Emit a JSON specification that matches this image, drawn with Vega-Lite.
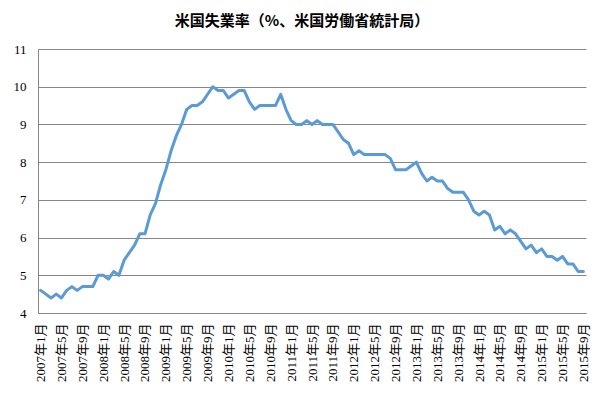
{
  "$schema": "https://vega.github.io/schema/vega-lite/v6.json",
  "width": 548,
  "height": 264,
  "autosize": "none",
  "padding": {"left": 38, "top": 49, "right": 19, "bottom": 81},
  "background": "white",
  "title": {
    "text": "米国失業率（%、米国労働省統計局）",
    "font": "Noto Sans CJK JP",
    "fontSize": 15,
    "fontWeight": "bold",
    "color": "#000000",
    "anchor": "middle",
    "dx": -10,
    "offset": 14
  },
  "data": {
    "values": [
      {"month": "2007年1月", "rate": 4.6}, {"month": "2007年2月", "rate": 4.5}, {"month": "2007年3月", "rate": 4.4}, {"month": "2007年4月", "rate": 4.5}, {"month": "2007年5月", "rate": 4.4}, {"month": "2007年6月", "rate": 4.6}, {"month": "2007年7月", "rate": 4.7}, {"month": "2007年8月", "rate": 4.6}, {"month": "2007年9月", "rate": 4.7}, {"month": "2007年10月", "rate": 4.7}, {"month": "2007年11月", "rate": 4.7}, {"month": "2007年12月", "rate": 5.0},
      {"month": "2008年1月", "rate": 5.0}, {"month": "2008年2月", "rate": 4.9}, {"month": "2008年3月", "rate": 5.1}, {"month": "2008年4月", "rate": 5.0}, {"month": "2008年5月", "rate": 5.4}, {"month": "2008年6月", "rate": 5.6}, {"month": "2008年7月", "rate": 5.8}, {"month": "2008年8月", "rate": 6.1}, {"month": "2008年9月", "rate": 6.1}, {"month": "2008年10月", "rate": 6.6}, {"month": "2008年11月", "rate": 6.9}, {"month": "2008年12月", "rate": 7.4},
      {"month": "2009年1月", "rate": 7.8}, {"month": "2009年2月", "rate": 8.3}, {"month": "2009年3月", "rate": 8.7}, {"month": "2009年4月", "rate": 9.0}, {"month": "2009年5月", "rate": 9.4}, {"month": "2009年6月", "rate": 9.5}, {"month": "2009年7月", "rate": 9.5}, {"month": "2009年8月", "rate": 9.6}, {"month": "2009年9月", "rate": 9.8}, {"month": "2009年10月", "rate": 10.0}, {"month": "2009年11月", "rate": 9.9}, {"month": "2009年12月", "rate": 9.9},
      {"month": "2010年1月", "rate": 9.7}, {"month": "2010年2月", "rate": 9.8}, {"month": "2010年3月", "rate": 9.9}, {"month": "2010年4月", "rate": 9.9}, {"month": "2010年5月", "rate": 9.6}, {"month": "2010年6月", "rate": 9.4}, {"month": "2010年7月", "rate": 9.5}, {"month": "2010年8月", "rate": 9.5}, {"month": "2010年9月", "rate": 9.5}, {"month": "2010年10月", "rate": 9.5}, {"month": "2010年11月", "rate": 9.8}, {"month": "2010年12月", "rate": 9.4},
      {"month": "2011年1月", "rate": 9.1}, {"month": "2011年2月", "rate": 9.0}, {"month": "2011年3月", "rate": 9.0}, {"month": "2011年4月", "rate": 9.1}, {"month": "2011年5月", "rate": 9.0}, {"month": "2011年6月", "rate": 9.1}, {"month": "2011年7月", "rate": 9.0}, {"month": "2011年8月", "rate": 9.0}, {"month": "2011年9月", "rate": 9.0}, {"month": "2011年10月", "rate": 8.8}, {"month": "2011年11月", "rate": 8.6}, {"month": "2011年12月", "rate": 8.5},
      {"month": "2012年1月", "rate": 8.2}, {"month": "2012年2月", "rate": 8.3}, {"month": "2012年3月", "rate": 8.2}, {"month": "2012年4月", "rate": 8.2}, {"month": "2012年5月", "rate": 8.2}, {"month": "2012年6月", "rate": 8.2}, {"month": "2012年7月", "rate": 8.2}, {"month": "2012年8月", "rate": 8.1}, {"month": "2012年9月", "rate": 7.8}, {"month": "2012年10月", "rate": 7.8}, {"month": "2012年11月", "rate": 7.8}, {"month": "2012年12月", "rate": 7.9},
      {"month": "2013年1月", "rate": 8.0}, {"month": "2013年2月", "rate": 7.7}, {"month": "2013年3月", "rate": 7.5}, {"month": "2013年4月", "rate": 7.6}, {"month": "2013年5月", "rate": 7.5}, {"month": "2013年6月", "rate": 7.5}, {"month": "2013年7月", "rate": 7.3}, {"month": "2013年8月", "rate": 7.2}, {"month": "2013年9月", "rate": 7.2}, {"month": "2013年10月", "rate": 7.2}, {"month": "2013年11月", "rate": 7.0}, {"month": "2013年12月", "rate": 6.7},
      {"month": "2014年1月", "rate": 6.6}, {"month": "2014年2月", "rate": 6.7}, {"month": "2014年3月", "rate": 6.6}, {"month": "2014年4月", "rate": 6.2}, {"month": "2014年5月", "rate": 6.3}, {"month": "2014年6月", "rate": 6.1}, {"month": "2014年7月", "rate": 6.2}, {"month": "2014年8月", "rate": 6.1}, {"month": "2014年9月", "rate": 5.9}, {"month": "2014年10月", "rate": 5.7}, {"month": "2014年11月", "rate": 5.8}, {"month": "2014年12月", "rate": 5.6},
      {"month": "2015年1月", "rate": 5.7}, {"month": "2015年2月", "rate": 5.5}, {"month": "2015年3月", "rate": 5.5}, {"month": "2015年4月", "rate": 5.4}, {"month": "2015年5月", "rate": 5.5}, {"month": "2015年6月", "rate": 5.3}, {"month": "2015年7月", "rate": 5.3}, {"month": "2015年8月", "rate": 5.1}, {"month": "2015年9月", "rate": 5.1}
    ]
  },
  "mark": {"type": "line", "color": "#5B9BD5", "strokeWidth": 3, "strokeJoin": "round", "strokeCap": "round"},
  "encoding": {
    "x": {
      "field": "month",
      "type": "ordinal",
      "sort": null,
      "scale": {"type": "point", "padding": 0.5},
      "axis": {
        "title": null,
        "values": ["2007年1月", "2007年5月", "2007年9月", "2008年1月", "2008年5月", "2008年9月", "2009年1月", "2009年5月", "2009年9月", "2010年1月", "2010年5月", "2010年9月", "2011年1月", "2011年5月", "2011年9月", "2012年1月", "2012年5月", "2012年9月", "2013年1月", "2013年5月", "2013年9月", "2014年1月", "2014年5月", "2014年9月", "2015年1月", "2015年5月", "2015年9月"],
        "labelAngle": -90,
        "labelAlign": "right",
        "labelBaseline": "middle",
        "labelPadding": 10,
        "labelOverlap": false,
        "labelFont": "Liberation Serif, Noto Sans CJK JP",
        "labelFontSize": 13,
        "labelColor": "#000000",
        "ticks": false,
        "grid": false,
        "domainColor": "#868686",
        "domainWidth": 1
      }
    },
    "y": {
      "field": "rate",
      "type": "quantitative",
      "scale": {"domain": [4, 11], "nice": false, "zero": false},
      "axis": {
        "title": null,
        "values": [4, 5, 6, 7, 8, 9, 10, 11],
        "labelPadding": 12,
        "labelFont": "Liberation Serif",
        "labelFontSize": 13,
        "labelColor": "#000000",
        "ticks": false,
        "grid": true,
        "gridColor": "#868686",
        "gridWidth": 1,
        "gridOpacity": 1,
        "domainColor": "#868686",
        "domainWidth": 1
      }
    }
  },
  "config": {
    "view": {"stroke": null}
  }
}
